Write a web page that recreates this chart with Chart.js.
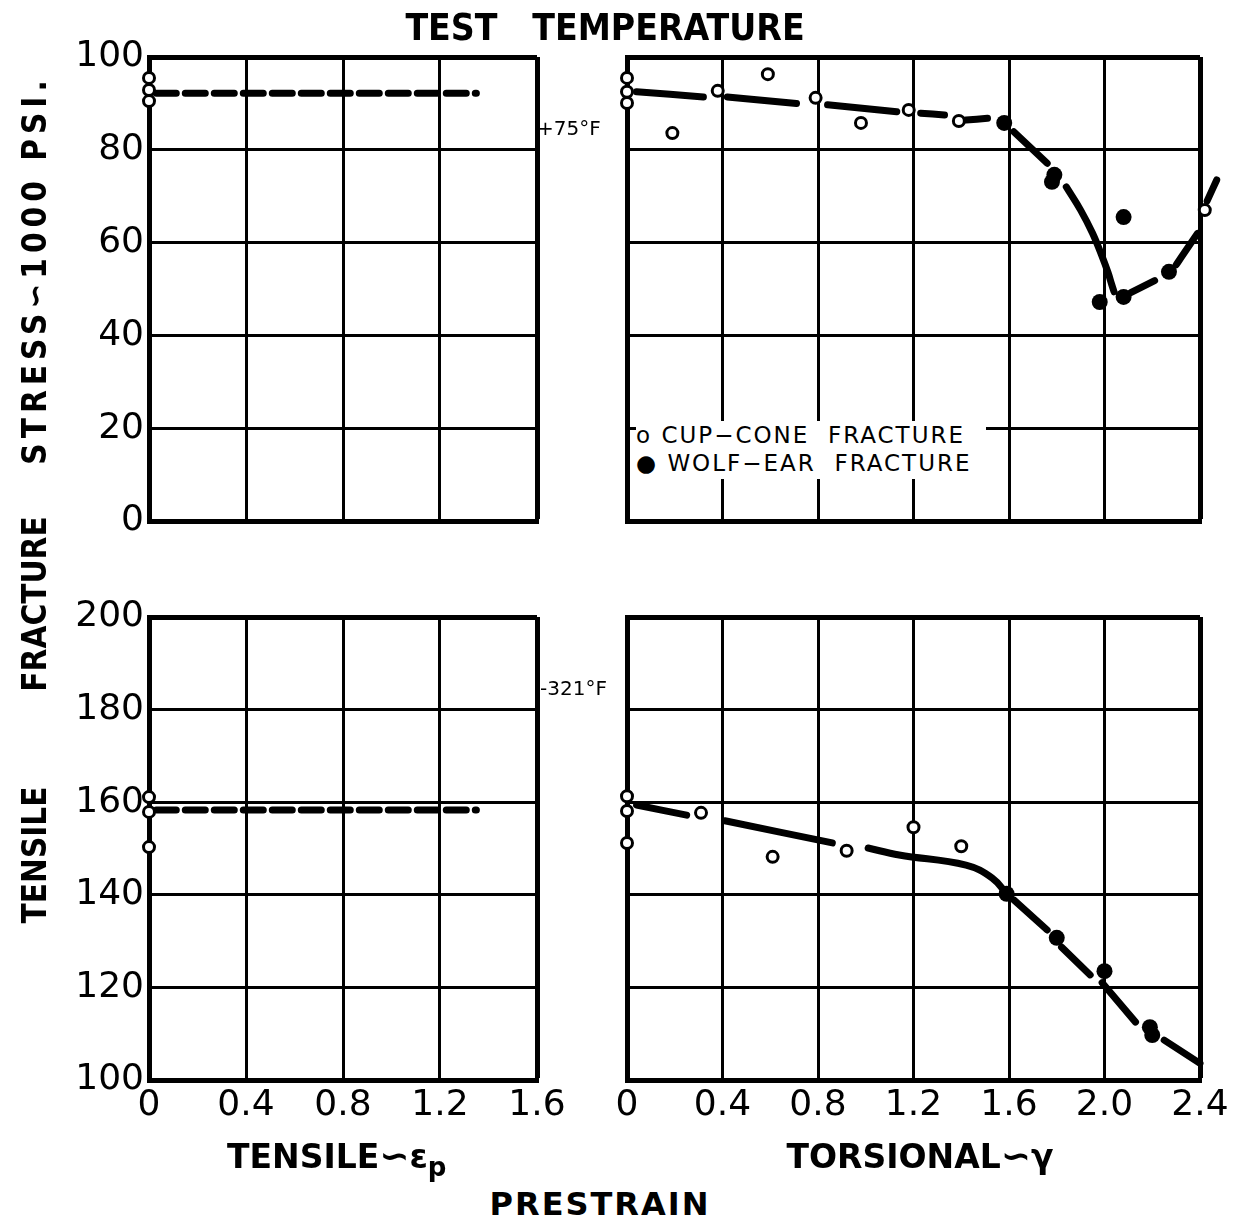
<!DOCTYPE html>
<html>
<head>
<meta charset="utf-8">
<script src="https://cdn.jsdelivr.net/npm/chart.js@4.4.1/dist/chart.umd.min.js"></script>
<style>
  body { margin: 0; background: #fff; width: 1235px; height: 1221px; position: relative; overflow: hidden; color: #000; }
  canvas { position: absolute; }
  .t { position: absolute; white-space: pre; font-family: 'DejaVu Sans Condensed', 'DejaVu Sans', sans-serif; font-weight: bold; line-height: 1; }
  .rot { transform: translate(-50%, -50%) rotate(-90deg); }
  .ctr { transform: translateX(-50%); }
  .sw { font-size: 36px; line-height: 1; }
</style>
</head>
<body>
<canvas id="roomTensile" width="560" height="520" style="left:0;top:30px"></canvas>
<canvas id="roomTorsion" width="635" height="520" style="left:600px;top:30px"></canvas>
<canvas id="coldTensile" width="590" height="550" style="left:0;top:590px"></canvas>
<canvas id="coldTorsion" width="635" height="550" style="left:600px;top:590px"></canvas>

<div class="t ctr" style="left:605px;top:9px;font-size:37px;">TEST   TEMPERATURE</div>
<div class="t rot" style="left:34px;top:855px;font-size:33px;">TENSILE</div>
<div class="t rot" style="left:34px;top:604px;font-size:33px;">FRACTURE</div>
<div class="t rot" style="left:34px;top:270px;font-size:33px;letter-spacing:5px;">STRESS∽1000 PSI.</div>
<div class="t" style="left:537px;top:118px;font-size:20px;font-family:'DejaVu Sans',sans-serif;font-weight:normal;">+75°F</div>
<div class="t" style="left:540px;top:678px;font-size:20px;font-family:'DejaVu Sans',sans-serif;font-weight:normal;">-321°F</div>
<div class="t" style="left:227px;top:1138px;font-size:33px;font-family:'DejaVu Sans',sans-serif;">TENSILE<span class="sw">∽</span>ε<sub style="font-size:26px;line-height:1">p</sub></div>
<div class="t ctr" style="left:920px;top:1138px;font-size:33px;font-family:'DejaVu Sans',sans-serif;">TORSIONAL<span class="sw">∽</span>γ</div>
<div class="t ctr" style="left:600px;top:1188px;font-size:32px;letter-spacing:2px;font-family:'DejaVu Sans',sans-serif;">PRESTRAIN</div>
<div class="t" style="left:636px;top:421px;width:350px;height:58px;background:#fff;font-size:23px;font-weight:normal;font-family:'DejaVu Sans',sans-serif;letter-spacing:2px;line-height:28px;">o CUP−CONE  FRACTURE
● WOLF−EAR  FRACTURE</div>

<script>
  // tick values / labels
  const tensileXTicks = [0, 0.4, 0.8, 1.2, 1.6];
  const tensileXLabels = ['0', '0.4', '0.8', '1.2', '1.6'];
  const torsionXTicks = [0, 0.4, 0.8, 1.2, 1.6, 2.0, 2.4];
  const torsionXLabels = ['0', '0.4', '0.8', '1.2', '1.6', '2.0', '2.4'];
  const roomYTicks = [0, 20, 40, 60, 80, 100];
  const coldYTicks = [100, 120, 140, 160, 180, 200];

  // +75°F, tensile prestrain
  const roomTensileCupX = [0, 0, 0];
  const roomTensileCupY = [95.5, 92.9, 90.5];
  const roomTensileLineX = [0.03, 1.35];
  const roomTensileLineY = [92.2, 92.2];

  // +75°F, torsional prestrain
  const roomTorsionCupX = [0, 0, 0, 0.19, 0.38, 0.59, 0.79, 0.98, 1.18, 1.39, 2.42];
  const roomTorsionCupY = [95.5, 92.5, 90.1, 83.6, 92.7, 96.3, 91.2, 85.8, 88.6, 86.2, 67];
  const roomTorsionWolfX = [1.58, 1.79, 1.78, 2.08, 1.98, 2.08, 2.27];
  const roomTorsionWolfY = [85.8, 74.6, 73.1, 65.5, 47.2, 48.3, 53.7];
  // falling branch (gaps around the points)
  const roomTorsionLineX = [0.04, 0.32, 0.36, 0.42, 0.71, 0.76, 0.84, 1.13, 1.18, 1.23, 1.33, 1.38, 1.42, 1.51, 1.56,
                            1.62, 1.76, 1.8, 1.84, 1.90, 1.95, 1.99, 2.015, 2.03, 2.04];
  const roomTorsionLineY = [92.5, 91.4, null, 91.4, 90.0, null, 89.7, 88.2, null, 87.9, 87.5, null, 86.4, 86.8, null,
                            83.9, 77.1, null, 72.0, 67.0, 62.0, 57.0, 53.5, 51.0, 49.4];
  // rising branch, listed from the right end back to the minimum
  const roomTorsionRiseX = [2.47, 2.43, 2.41, 2.39, 2.33, 2.30, 2.26, 2.21, 2.11];
  const roomTorsionRiseY = [73.5, 69.0, null, 62.0, 57.5, 55.2, null, 51.8, 49.2];

  // -321°F, tensile prestrain
  const coldTensileCupX = [0, 0, 0];
  const coldTensileCupY = [161.1, 157.9, 150.3];
  const coldTensileLineX = [0.03, 1.35];
  const coldTensileLineY = [158.3, 158.3];

  // -321°F, torsional prestrain
  const coldTorsionCupX = [0, 0, 0, 0.31, 0.61, 0.92, 1.2, 1.4];
  const coldTorsionCupY = [161.3, 158.1, 151.2, 157.7, 148.2, 149.5, 154.6, 150.5];
  const coldTorsionWolfX = [1.59, 1.8, 2.0, 2.19, 2.2];
  const coldTorsionWolfY = [140.2, 130.7, 123.5, 111.4, 109.7];
  const coldTorsionSolidX = [0.04, 0.25, 0.3, 0.41, 0.86, 0.9, 1.01, 1.14, 1.42, 1.53, 1.59];
  const coldTorsionSolidY = [159.4, 157.2, null, 156.0, 151.2, null, 150.1, 148.6, 146.4, 143.6, 140.2];
  const coldTorsionDashX = [1.62, 1.76, 1.79, 1.82, 1.94, 1.97, 1.99, 2.13, 2.18, 2.25, 2.40];
  const coldTorsionDashY = [138.9, 132.4, null, 128.7, 122.7, null, 121.0, 112.5, null, 108.6, 103.6];

  const pts = (xs, ys) => xs.map((x, i) => ({ x: x, y: ys[i] }));

  function cupSet(xs, ys) {
    return { data: pts(xs, ys), pointRadius: 5.5, pointBorderWidth: 3, pointBorderColor: '#000',
             pointBackgroundColor: '#fff', showLine: false, clip: false };
  }
  function wolfSet(xs, ys) {
    return { data: pts(xs, ys), pointRadius: 8, pointBorderWidth: 0, pointBackgroundColor: '#000',
             showLine: false, clip: false };
  }
  function lineSet(xs, ys, dash, smooth) {
    return { data: pts(xs, ys), showLine: true, pointRadius: 0, borderColor: '#000', borderWidth: 7,
             borderDash: dash, borderCapStyle: 'round', spanGaps: false, clip: false,
             tension: smooth ? 0.4 : 0 };
  }

  function makeChart(id, datasets, o) {
    const tickFont = { family: 'DejaVu Sans', size: 36 };
    return new Chart(document.getElementById(id), {
      type: 'scatter',
      data: { datasets: datasets.map(d => Object.assign({ order: d.showLine ? 2 : 1 }, d)) },
      options: {
        responsive: false,
        animation: false,
        events: [],
        layout: { padding: o.padding },
        plugins: { legend: { display: false }, tooltip: { enabled: false } },
        scales: {
          x: {
            min: o.xTicks[0], max: o.xTicks[o.xTicks.length - 1],
            afterBuildTicks: s => { s.ticks = o.xTicks.map(v => ({ value: v })); },
            afterFit: s => { s.height = o.xh; },
            ticks: { display: o.xh > 0, color: '#000', font: tickFont, padding: 4, maxRotation: 0,
                     callback: (v, i) => o.xLabels[i] },
            grid: { color: '#000', drawTicks: false,
                    lineWidth: c => (c.tick && c.tick.value === o.xTicks[o.xTicks.length - 1]) ? 5 : 3 },
            border: { color: '#000', width: 5 }
          },
          y: {
            min: o.yTicks[0], max: o.yTicks[o.yTicks.length - 1],
            afterBuildTicks: s => { s.ticks = o.yTicks.map(v => ({ value: v })); },
            afterFit: s => { s.width = o.yw; },
            ticks: { display: o.showY, color: '#000', font: tickFont, padding: 5,
                     callback: v => String(v) },
            grid: { color: '#000', drawTicks: false,
                    lineWidth: c => (c.tick && c.tick.value === o.yTicks[o.yTicks.length - 1]) ? 5 : 3 },
            border: { color: '#000', width: 5 }
          }
        }
      }
    });
  }

  makeChart('roomTensile', [
    lineSet(roomTensileLineX, roomTensileLineY, [20, 9], false),
    cupSet(roomTensileCupX, roomTensileCupY)
  ], { xTicks: tensileXTicks, xLabels: tensileXLabels, yTicks: roomYTicks, xh: 0, yw: 149, showY: true,
       padding: { left: 0, top: 27, right: 23, bottom: 29 } });

  makeChart('roomTorsion', [
    lineSet(roomTorsionLineX, roomTorsionLineY, [], true),
    lineSet(roomTorsionRiseX, roomTorsionRiseY, [], true),
    cupSet(roomTorsionCupX, roomTorsionCupY),
    wolfSet(roomTorsionWolfX, roomTorsionWolfY)
  ], { xTicks: torsionXTicks, xLabels: torsionXLabels, yTicks: roomYTicks, xh: 0, yw: 27, showY: false,
       padding: { left: 0, top: 27, right: 35, bottom: 29 } });

  makeChart('coldTensile', [
    lineSet(coldTensileLineX, coldTensileLineY, [20, 9], false),
    cupSet(coldTensileCupX, coldTensileCupY)
  ], { xTicks: tensileXTicks, xLabels: tensileXLabels, yTicks: coldYTicks, xh: 45, yw: 149, showY: true,
       padding: { left: 0, top: 27, right: 53, bottom: 15 } });

  makeChart('coldTorsion', [
    lineSet(coldTorsionSolidX, coldTorsionSolidY, [], true),
    lineSet(coldTorsionDashX, coldTorsionDashY, [], false),
    cupSet(coldTorsionCupX, coldTorsionCupY),
    wolfSet(coldTorsionWolfX, coldTorsionWolfY)
  ], { xTicks: torsionXTicks, xLabels: torsionXLabels, yTicks: coldYTicks, xh: 45, yw: 27, showY: false,
       padding: { left: 0, top: 27, right: 35, bottom: 15 } });
</script>
</body>
</html>
